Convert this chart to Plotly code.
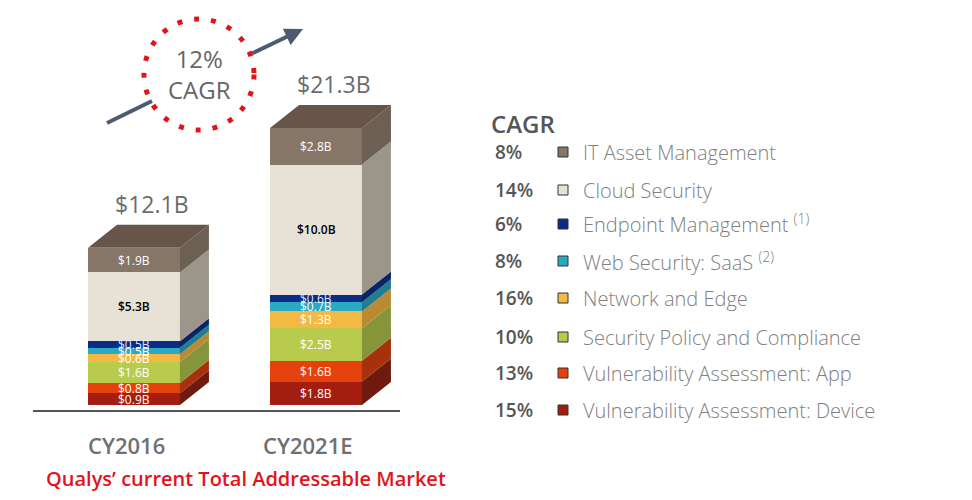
import plotly.graph_objects as go

# -----------------------------------------------------------
# Data (bottom of the stack first)
# -----------------------------------------------------------
years = ["CY2016", "CY2021E"]
segments = [
    "Vulnerability Assessment: Device",
    "Vulnerability Assessment: App",
    "Security Policy and Compliance",
    "Network and Edge",
    "Web Security: SaaS",
    "Endpoint Management",
    "Cloud Security",
    "IT Asset Management",
]
values_2016 = [0.9, 0.8, 1.6, 0.6, 0.5, 0.5, 5.3, 1.9]
values_2021 = [1.8, 1.6, 2.5, 1.3, 0.7, 0.6, 10.0, 2.8]
cagr = ["15%", "13%", "10%", "16%", "8%", "6%", "14%", "8%"]
footnotes = ["", "", "", "", "(2)", "(1)", "", ""]
overall_cagr = "12%"
subtitle = "Qualys\u2019 current Total Addressable Market"

# -----------------------------------------------------------
# Styles
# -----------------------------------------------------------
front = ["#a31d10", "#e4410d", "#b9cb4c", "#f3b942", "#29aac2", "#0a2c86", "#e7e1d6", "#867668"]
side = ["#6f1a0f", "#a7310c", "#86953a", "#b98a32", "#1d7f90", "#0a2567", "#9c968a", "#6c5f53"]
top_face = "#665548"
label_col = ["white", "white", "white", "white", "white", "#dfe8ff", "black", "white"]

W, H = 972, 500
PX_X = 182.0          # pixels per category step
PX_Y = 13.0           # pixels per $1B
X0_PX, Y0_PX = 134, 405
bar_w = 0.505
dx = 29 / PX_X
dy = 23 / PX_Y


def px(x, y):
    # pixel position -> paper coordinates
    return x / W, 1 - y / H


fig = go.Figure()

series = [values_2016, values_2021]

# front faces
for i, name in enumerate(segments):
    fig.add_trace(go.Bar(
        x=[0, 1],
        y=[series[0][i], series[1][i]],
        width=bar_w,
        marker=dict(color=front[i], line=dict(width=0)),
        name=name,
        showlegend=False,
        hoverinfo="skip",
    ))

# side and top faces, computed from the stacked data
for b, vals in enumerate(series):
    xr = b + bar_w / 2
    xl = b - bar_w / 2
    base = 0.0
    for i, v in enumerate(vals):
        y0, y1 = base, base + v
        fig.add_trace(go.Scatter(
            x=[xr, xr + dx, xr + dx, xr, xr],
            y=[y0, y0 + dy, y1 + dy, y1, y0],
            fill="toself", fillcolor=side[i], mode="lines",
            line=dict(width=0, color=side[i]),
            showlegend=False, hoverinfo="skip",
        ))
        fig.add_annotation(
            x=b, y=(y0 + y1) / 2, text=f"${v:.1f}B", showarrow=False,
            xanchor="center", yanchor="middle",
            font=dict(family="Open Sans", size=12, color=label_col[i],
                      weight=600 if i == 6 else 400),
        )
        base = y1
    fig.add_trace(go.Scatter(
        x=[xl, xl + dx, xr + dx, xr, xl],
        y=[base, base + dy, base + dy, base, base],
        fill="toself", fillcolor=top_face, mode="lines",
        line=dict(width=0, color=top_face),
        showlegend=False, hoverinfo="skip",
    ))
    fig.add_annotation(
        x=b + 0.1, y=base + dy, yanchor="bottom", xanchor="center", yshift=3,
        text=f"${base:.1f}B", showarrow=False,
        font=dict(family="Open Sans", size=23, color="#6b6b6b"),
    )
    fig.add_annotation(
        x=b, xshift=-8, y=px(0, 445)[1], yref="paper",
        xanchor="center", yanchor="middle",
        text=years[b], showarrow=False,
        font=dict(family="Open Sans", size=22, color="#707070", weight=600),
    )

# baseline
fig.add_shape(type="line", xref="paper", yref="paper",
              x0=33 / W, x1=400 / W, y0=px(0, 411)[1], y1=px(0, 411)[1],
              line=dict(color="#555555", width=2))

# subtitle
sx, sy = px(246, 478)
fig.add_annotation(x=sx, y=sy, xref="paper", yref="paper",
                   xanchor="center", yanchor="middle",
                   text=subtitle, showarrow=False,
                   font=dict(family="Open Sans", size=20, color="#e3121b", weight=600))

# 12% CAGR badge
fig.add_shape(type="circle", xref="paper", yref="paper",
              x0=144 / W, x1=254 / W, y0=px(0, 130)[1], y1=px(0, 19)[1],
              line=dict(color="#e3121b", width=5, dash="5px,12px"))
cx, cy = px(199, 74)
fig.add_annotation(x=cx, y=cy, xref="paper", yref="paper",
                   xanchor="center", yanchor="middle",
                   text=f"{overall_cagr}<br>CAGR", showarrow=False,
                   font=dict(family="Open Sans", size=24, color="#666666"))
fig.add_shape(type="line", xref="paper", yref="paper",
              x0=107 / W, y0=px(0, 123)[1], x1=152 / W, y1=px(0, 101)[1],
              line=dict(color="#4d5b72", width=4))
ax_, ay_ = px(303, 29)
fig.add_annotation(x=ax_, y=ay_, xref="paper", yref="paper",
                   ax=-52, ay=25, text="", showarrow=True,
                   arrowhead=2, arrowsize=0.9, arrowwidth=4, arrowcolor="#4d5b72")

# custom legend with CAGR column
hx, hy = px(489, 123)
fig.add_annotation(x=hx, y=hy, xref="paper", yref="paper",
                   text="CAGR", showarrow=False, xanchor="left", yanchor="middle",
                   font=dict(family="Open Sans", size=24, color="#555555", weight=600))
row_y = [410, 373, 337, 298, 261, 224, 190, 152]
for i, name in enumerate(segments):
    yp = px(0, row_y[i])[1]
    fig.add_annotation(x=493 / W, y=yp, xref="paper", yref="paper",
                       text=cagr[i], showarrow=False, xanchor="left", yanchor="middle",
                       font=dict(family="Open Sans", size=19, color="#555555", weight=600))
    fig.add_shape(type="rect", xref="paper", yref="paper",
                  x0=558 / W, x1=568 / W, y0=yp - 5 / H, y1=yp + 5 / H,
                  fillcolor=front[i], line=dict(color="#333333", width=1))
    label = name + (f" <sup>{footnotes[i]}</sup>" if footnotes[i] else "")
    fig.add_annotation(x=581 / W, y=yp, xref="paper", yref="paper",
                       text=label, showarrow=False, xanchor="left", yanchor="middle",
                       font=dict(family="Open Sans", size=20, color="#808080", weight=300))

fig.update_layout(
    width=W, height=H,
    barmode="stack",
    margin=dict(l=0, r=0, t=0, b=0),
    paper_bgcolor="white", plot_bgcolor="white",
    xaxis=dict(range=[-X0_PX / PX_X, (W - X0_PX) / PX_X], visible=False, fixedrange=True),
    yaxis=dict(range=[-(H - Y0_PX) / PX_Y, Y0_PX / PX_Y], visible=False, fixedrange=True),
    showlegend=False,
)

fig.write_html("out.html", config={"displayModeBar": False},
               post_script="document.body.style.margin='0';")
